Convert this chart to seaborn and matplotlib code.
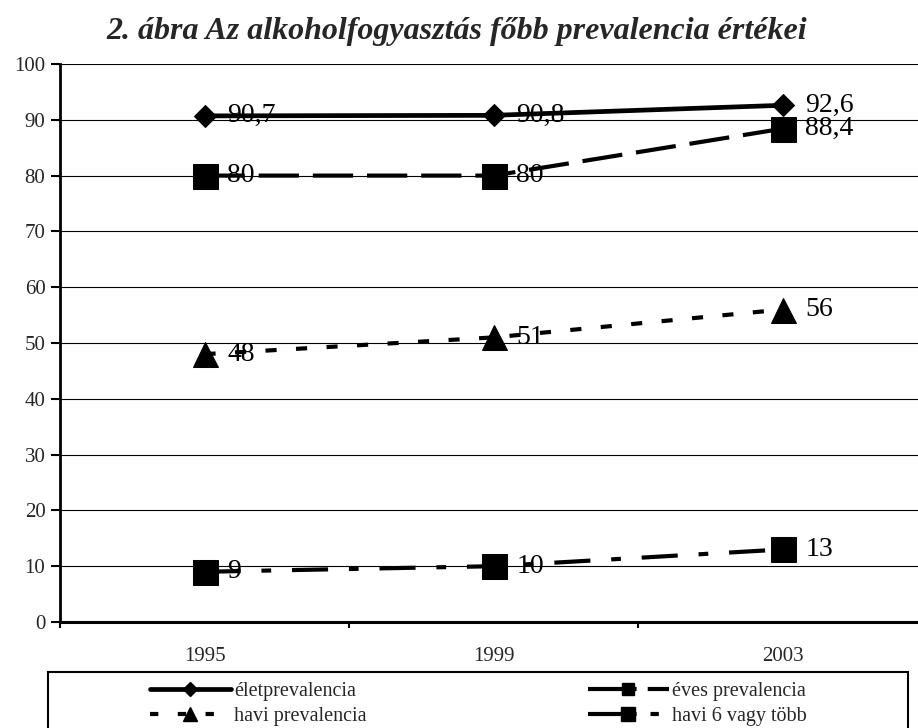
import numpy as np
import pandas as pd
import matplotlib
matplotlib.use("Agg")
import matplotlib.pyplot as plt
import seaborn as sns
from matplotlib.lines import Line2D
from matplotlib.patches import Rectangle

# Adatok
years = ["1995", "1999", "2003"]
series_names = ["életprevalencia", "éves prevalencia", "havi prevalencia", "havi 6 vagy több"]
elet = [90.7, 90.8, 92.6]
eves = [80, 80, 88.4]
havi = [48, 51, 56]
havi6 = [9, 10, 13]
title = "2. ábra Az alkoholfogyasztás főbb prevalencia értékei"

sns.set_theme(style="white")
plt.rcParams["font.family"] = ["Liberation Serif", "DejaVu Serif"]
plt.rcParams["lines.scale_dashes"] = False

W, H = 918, 728
fig = plt.figure(figsize=(W / 100, H / 100), dpi=100)
ax = fig.add_axes([60 / W, 1 - 622 / H, 867 / W, 558 / H])

styles = [
    dict(linestyle="-", marker="D", markersize=11.5, lw=3.4),
    dict(dashes=(29, 10), marker="s", markersize=18, lw=3.0),
    dict(dashes=(8, 14), marker="^", markersize=18, lw=3.0),
    dict(dashes=(26, 15, 7, 15), marker="s", markersize=18, lw=3.0),
]
data = [elet, eves, havi, havi6]

for name, vals, st in zip(series_names, data, styles):
    df = pd.DataFrame({"ev": years, "ertek": vals})
    sns.lineplot(data=df, x="ev", y="ertek", ax=ax, color="black",
                 markeredgecolor="black", markerfacecolor="black",
                 sort=False, **st)
    for i, v in enumerate(vals):
        ax.annotate(f"{v:g}".replace(".", ","), (i, v), xytext=(16.5, 0),
                    textcoords="offset points", va="center", ha="left",
                    fontsize=20, color="black")

ax.set_xlim(-0.5, 2.5)
ax.set_ylim(0, 100)
ax.set_yticks(np.arange(0, 101, 10))
ax.yaxis.grid(True, color="black", lw=0.8)
ax.xaxis.grid(False)
ax.set_axisbelow(True)
ax.set_xlabel("")
ax.set_ylabel("")
for s in ["top", "right"]:
    ax.spines[s].set_visible(False)
ax.spines["left"].set_color("black")
ax.spines["left"].set_linewidth(2)
ax.spines["bottom"].set_color("black")
ax.spines["bottom"].set_linewidth(2.2)

ax.tick_params(axis="y", which="major", direction="out", length=6.5, width=1.5,
               color="black", labelsize=15, pad=4, left=True)
ax.set_xticks([0, 1, 2])
ax.set_xticklabels(years)
ax.set_xticks([-0.5, 0.5, 1.5, 2.5], minor=True)
ax.tick_params(axis="x", which="major", length=0, labelsize=15, pad=18)
ax.tick_params(axis="x", which="minor", direction="out", length=4.5, width=1.5,
               color="black", bottom=True)

fig.text(457 / W, 1 - 32 / H, title, ha="center", va="center",
         fontsize=23, fontweight="bold", fontstyle="italic")

# Jelmagyarázat
handles = [
    Line2D([], [], color="black", lw=3.4, linestyle="-", marker="D", markersize=7),
    Line2D([], [], color="black", lw=3.0, dashes=(35, 8), marker="s", markersize=9),
    Line2D([], [], color="black", lw=3.0, dashes=(6, 14), marker="^", markersize=10),
    Line2D([], [], color="black", lw=3.0, dashes=(35, 10, 6, 20), marker="s", markersize=10),
]
positions = [(150, 691), (588, 691), (150, 716), (588, 716)]
for h, name, (px, py) in zip(handles, series_names, positions):
    fig.legend([h], [name], loc="center left", bbox_to_anchor=(px / W, 1 - py / H),
               frameon=False, fontsize=14.5, handlelength=4.0, handletextpad=0.17,
               borderpad=0, borderaxespad=0)

fig.patches.append(Rectangle((48 / W, -0.05), 860 / W, 0.05 + (H - 672) / H,
                             transform=fig.transFigure, fill=False,
                             edgecolor="black", lw=1.5))

fig.savefig("out.png", dpi=100)
